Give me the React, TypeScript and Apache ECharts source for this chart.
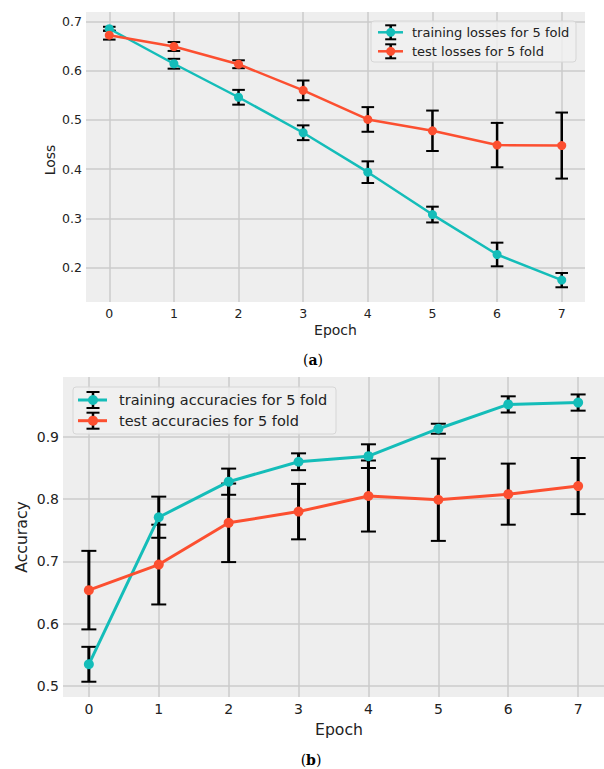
import React, { useEffect, useRef } from "react";
import * as echarts from "echarts";

const epochs = [0, 1, 2, 3, 4, 5, 6, 7];
const lossTicks = [0.2, 0.3, 0.4, 0.5, 0.6, 0.7];
const accTicks = [0.5, 0.6, 0.7, 0.8, 0.9];

const trainLoss = [0.685, 0.614, 0.546, 0.474, 0.394, 0.308, 0.227, 0.175];
const trainLossErr = [0.004, 0.01, 0.015, 0.015, 0.022, 0.016, 0.024, 0.0145];
const testLoss = [0.672, 0.649, 0.613, 0.56, 0.501, 0.478, 0.449, 0.448];
const testLossErr = [0.009, 0.009, 0.008, 0.02, 0.025, 0.041, 0.045, 0.067];

const trainAcc = [0.535, 0.771, 0.828, 0.86, 0.869, 0.913, 0.952, 0.955];
const trainAccErr = [0.028, 0.033, 0.021, 0.0135, 0.019, 0.008, 0.013, 0.013];
const testAcc = [0.654, 0.695, 0.762, 0.78, 0.805, 0.799, 0.808, 0.821];
const testAccErr = [0.063, 0.064, 0.063, 0.0445, 0.057, 0.066, 0.049, 0.045];

const TEAL = "#14BDB9";
const RED = "#FC4F30";
const GRIDC = "#CBCBCB";
const BG = "#EEEEEE";
const TXT = "#222222";
const FONT = "DejaVu Sans";

function errData(vals: number[], errs: number[]) {
  return epochs.map((x, i) => [x, vals[i] - errs[i], vals[i] + errs[i]]);
}

function errSeries(idx: number, vals: number[], errs: number[], capHalf: number, lw: number) {
  return {
    type: "custom",
    xAxisIndex: idx,
    yAxisIndex: idx,
    clip: false,
    z: 2,
    silent: true,
    encode: { x: 0, y: [1, 2] },
    data: errData(vals, errs),
    renderItem: (params: any, api: any) => {
      const x = api.value(0);
      const top = api.coord([x, api.value(2)]);
      const bot = api.coord([x, api.value(1)]);
      return {
        type: "group",
        children: [
          { type: "line", shape: { x1: top[0], y1: top[1], x2: bot[0], y2: bot[1] }, style: { stroke: "#000", lineWidth: lw } },
          { type: "line", shape: { x1: top[0] - capHalf, y1: top[1], x2: top[0] + capHalf, y2: top[1] }, style: { stroke: "#000", lineWidth: 2 } },
          { type: "line", shape: { x1: bot[0] - capHalf, y1: bot[1], x2: bot[0] + capHalf, y2: bot[1] }, style: { stroke: "#000", lineWidth: 2 } },
        ],
      };
    },
  };
}

function lineSeries(idx: number, vals: number[], color: string, size: number, lw: number) {
  return {
    type: "line",
    xAxisIndex: idx,
    yAxisIndex: idx,
    z: 3,
    data: epochs.map((x, i) => [x, vals[i]]),
    symbol: "circle",
    symbolSize: size,
    itemStyle: { color },
    lineStyle: { color, width: lw },
    clip: false,
  };
}

function legendItems(
  box: { x: number; y: number; w: number; h: number },
  rows: { y: number; label: string; color: string }[],
  line: { x1: number; x2: number; mx: number },
  fs: number,
  textX: number,
  ms: number,
  capHalf: number,
  capH: number,
  lw: number
) {
  const els: any[] = [
    {
      type: "rect",
      shape: { x: box.x, y: box.y, width: box.w, height: box.h, r: 3 },
      style: { fill: "rgba(240,240,240,0.8)", stroke: "#D6D6D6", lineWidth: 1 },
      z: 10,
    },
  ];
  rows.forEach((r) => {
    els.push({ type: "line", shape: { x1: line.mx, y1: r.y - capH, x2: line.mx, y2: r.y + capH }, style: { stroke: "#000", lineWidth: 2.5 }, z: 11 });
    els.push({ type: "line", shape: { x1: line.mx - capHalf, y1: r.y - capH, x2: line.mx + capHalf, y2: r.y - capH }, style: { stroke: "#000", lineWidth: 2 }, z: 11 });
    els.push({ type: "line", shape: { x1: line.mx - capHalf, y1: r.y + capH, x2: line.mx + capHalf, y2: r.y + capH }, style: { stroke: "#000", lineWidth: 2 }, z: 11 });
    els.push({ type: "line", shape: { x1: line.x1, y1: r.y, x2: line.x2, y2: r.y }, style: { stroke: r.color, lineWidth: lw }, z: 12 });
    els.push({ type: "circle", shape: { cx: line.mx, cy: r.y, r: ms / 2 }, style: { fill: r.color }, z: 13 });
    els.push({
      type: "text",
      x: textX,
      y: r.y,
      style: { text: r.label, fill: TXT, font: `${fs}px "${FONT}"`, textAlign: "left", textVerticalAlign: "middle" },
      z: 13,
    });
  });
  return els;
}

export default function App() {
  const ref = useRef<HTMLDivElement>(null);
  useEffect(() => {
    document.body.style.margin = "0";
    if (!ref.current) return;
    const chart = echarts.init(ref.current, null, { renderer: "svg" });
    const axisCommonX = (fs: number) => ({
      type: "value",
      axisLine: { show: false },
      axisTick: { show: false, customValues: epochs },
      axisLabel: { customValues: epochs, color: TXT, fontSize: fs, fontFamily: FONT, margin: 5, formatter: (v: number) => String(v) },
      splitLine: { show: true, lineStyle: { color: GRIDC, width: 1.5 } },
    });
    const axisCommonY = (fs: number, ticks: number[]) => ({
      type: "value",
      axisLine: { show: false },
      axisTick: { show: false, customValues: ticks },
      axisLabel: { customValues: ticks, color: TXT, fontSize: fs, fontFamily: FONT, margin: 4, formatter: (v: number) => v.toFixed(1) },
      splitLine: { show: true, lineStyle: { color: GRIDC, width: 1.5 } },
    });

    const graphics: any[] = [
      { type: "text", x: 50, y: 160, rotation: Math.PI / 2, style: { text: "Loss", fill: TXT, font: `14px "${FONT}"`, textAlign: "center", textVerticalAlign: "middle" } },
      { type: "text", x: 335.5, y: 330, style: { text: "Epoch", fill: TXT, font: `14px "${FONT}"`, textAlign: "center", textVerticalAlign: "middle" } },
      { type: "text", x: 21, y: 537, rotation: Math.PI / 2, style: { text: "Accuracy", fill: TXT, font: `15.7px "${FONT}"`, textAlign: "center", textVerticalAlign: "middle" } },
      { type: "text", x: 339, y: 729, style: { text: "Epoch", fill: TXT, font: `15.7px "${FONT}"`, textAlign: "center", textVerticalAlign: "middle" } },
      {
        type: "text", x: 313, y: 360,
        style: {
          text: "({b|a})", fill: "#000", font: `14px "DejaVu Serif"`, textAlign: "center", textVerticalAlign: "middle",
          rich: { b: { fontWeight: "bold", fontSize: 14, fontFamily: "DejaVu Serif" } },
        },
      },
      {
        type: "text", x: 311, y: 760,
        style: {
          text: "({b|b})", fill: "#000", font: `14px "DejaVu Serif"`, textAlign: "center", textVerticalAlign: "middle",
          rich: { b: { fontWeight: "bold", fontSize: 14, fontFamily: "DejaVu Serif" } },
        },
      },
      ...legendItems(
        { x: 371, y: 21, w: 205, h: 41 },
        [
          { y: 32.3, label: "training losses for 5 fold", color: TEAL },
          { y: 51.3, label: "test losses for 5 fold", color: RED },
        ],
        { x1: 378, x2: 403, mx: 390.7 },
        13, 412, 9, 5.5, 7, 2.5
      ),
      ...legendItems(
        { x: 73, y: 387, w: 263, h: 47 },
        [
          { y: 400, label: "training accuracies for 5 fold", color: TEAL },
          { y: 420.7, label: "test accuracies for 5 fold", color: RED },
        ],
        { x1: 78, x2: 107, mx: 93 },
        14.5, 119, 10, 6.5, 8, 3
      ),
    ];

    chart.setOption({
      animation: false,
      grid: [
        { left: 86, top: 12, width: 499, height: 290, show: true, backgroundColor: BG, borderWidth: 0 },
        { left: 63, top: 377, width: 552, height: 320, show: true, backgroundColor: BG, borderWidth: 0 },
      ],
      xAxis: [
        { ...axisCommonX(12.5), gridIndex: 0, min: -0.36, max: 7.36 },
        { ...axisCommonX(14), gridIndex: 1, min: -0.37, max: 7.37 },
      ],
      yAxis: [
        { ...axisCommonY(12.5, lossTicks), gridIndex: 0, min: 0.1306, max: 0.719 },
        { ...axisCommonY(14, accTicks), gridIndex: 1, min: 0.4825, max: 0.996 },
      ],
      series: [
        errSeries(0, trainLoss, trainLossErr, 6.3, 2.5),
        lineSeries(0, trainLoss, TEAL, 9, 2.5),
        errSeries(0, testLoss, testLossErr, 6.3, 2.5),
        lineSeries(0, testLoss, RED, 9, 2.5),
        errSeries(1, trainAcc, trainAccErr, 7.5, 3),
        lineSeries(1, trainAcc, TEAL, 10, 3),
        errSeries(1, testAcc, testAccErr, 7.5, 3),
        lineSeries(1, testAcc, RED, 10, 3),
      ],
      graphic: graphics,
    });
    return () => chart.dispose();
  }, []);
  return <div ref={ref} style={{ width: 604, height: 769 }} />;
}
